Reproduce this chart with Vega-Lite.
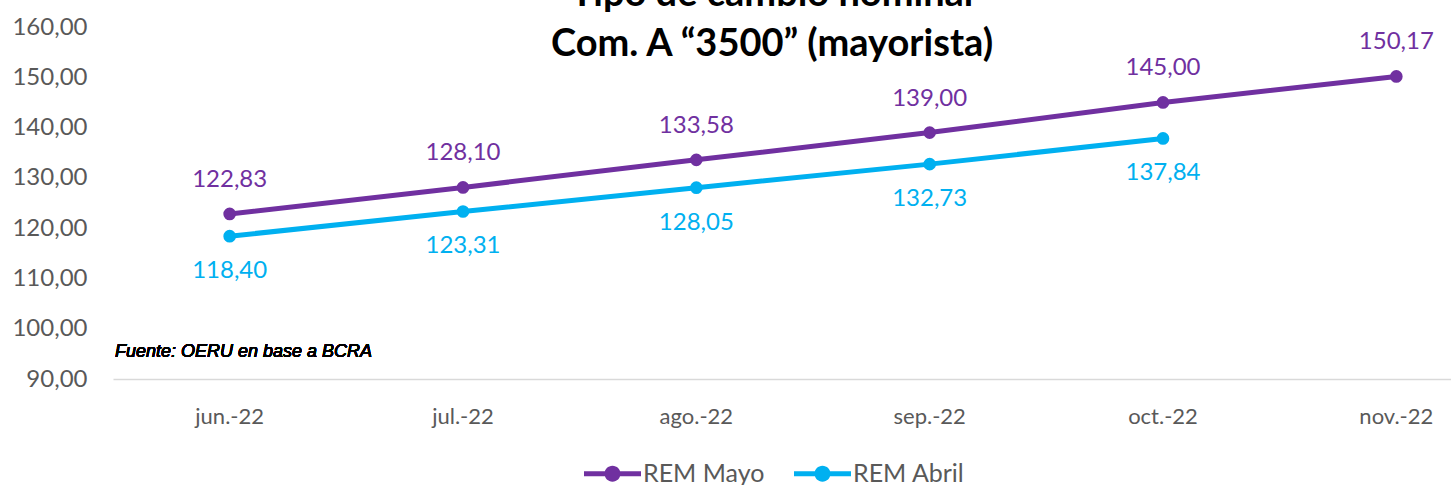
{
  "$schema": "https://vega.github.io/schema/vega-lite/v6.json",
  "width": 1338,
  "height": 352,
  "autosize": {"type": "none"},
  "padding": {"left": 113, "top": 27, "right": 0, "bottom": 106},
  "background": "white",
  "config": {
    "locale": {"number": {"decimal": ",", "thousands": ".", "grouping": [3], "currency": ["$", ""]}},
    "font": "Lato",
    "view": {"stroke": null},
    "legend": {"layout": {"bottom": {"anchor": "middle"}}}
  },
  "title": {
    "text": ["Tipo de cambio nominal", "Com. A “3500” (mayorista)"],
    "orient": "top",
    "anchor": "middle",
    "frame": "group",
    "baseline": "bottom",
    "offset": -35,
    "dy": 52,
    "dx": -10,
    "lineHeight": 50,
    "font": "Lato",
    "fontSize": 38,
    "fontWeight": "bold",
    "color": "#000000"
  },
  "data": {
    "values": [
      {"mes": "jun.-22", "serie": "REM Mayo", "valor": 122.83},
      {"mes": "jul.-22", "serie": "REM Mayo", "valor": 128.10},
      {"mes": "ago.-22", "serie": "REM Mayo", "valor": 133.58},
      {"mes": "sep.-22", "serie": "REM Mayo", "valor": 139.00},
      {"mes": "oct.-22", "serie": "REM Mayo", "valor": 145.00},
      {"mes": "nov.-22", "serie": "REM Mayo", "valor": 150.17},
      {"mes": "jun.-22", "serie": "REM Abril", "valor": 118.40},
      {"mes": "jul.-22", "serie": "REM Abril", "valor": 123.31},
      {"mes": "ago.-22", "serie": "REM Abril", "valor": 128.05},
      {"mes": "sep.-22", "serie": "REM Abril", "valor": 132.73},
      {"mes": "oct.-22", "serie": "REM Abril", "valor": 137.84}
    ]
  },
  "encoding": {
    "x": {
      "field": "mes",
      "type": "nominal",
      "scale": {
        "type": "band",
        "domain": ["jun.-22", "jul.-22", "ago.-22", "sep.-22", "oct.-22", "nov.-22"],
        "range": [0, 1400],
        "paddingInner": 0,
        "paddingOuter": 0
      },
      "axis": {
        "title": null,
        "labelAngle": 0,
        "ticks": false,
        "tickSize": 0,
        "grid": false,
        "domain": true,
        "domainColor": "#D9D9D9",
        "domainWidth": 1.5,
        "labelFontSize": 22,
        "labelFontWeight": "normal",
        "labelColor": "#595959",
        "labelPadding": 27,
        "labelFont": "Lato"
      }
    },
    "y": {
      "field": "valor",
      "type": "quantitative",
      "scale": {"domain": [90, 160], "nice": false, "zero": false},
      "axis": {
        "title": null,
        "values": [90, 100, 110, 120, 130, 140, 150, 160],
        "format": ".2f",
        "ticks": false,
        "tickSize": 0,
        "domain": false,
        "grid": false,
        "labelFontSize": 24,
        "labelColor": "#595959",
        "labelPadding": 26,
        "labelFont": "Lato"
      }
    }
  },
  "layer": [
    {
      "mark": {"type": "line", "strokeWidth": 5, "point": {"filled": true, "size": 160}},
      "encoding": {
        "color": {
          "field": "serie",
          "type": "nominal",
          "scale": {"domain": ["REM Mayo", "REM Abril"], "range": ["#7030A0", "#00B0F0"]},
          "legend": {
            "title": null,
            "orient": "bottom",
            "direction": "horizontal",
            "offset": 34,
            "labelFontSize": 25,
            "labelColor": "#595959",
            "labelFont": "Lato",
            "symbolType": "M-3,-0.26H3V0.26H-3Z M-0.84,0A0.84,0.84 0 1,1 0.84,0A0.84,0.84 0 1,1 -0.84,0Z",
            "symbolSize": 361,
            "symbolStrokeWidth": 0,
            "labelOffset": 18,
            "columnPadding": 29,
            "encode": {
              "symbols": {"update": {"fill": {"scale": "color", "field": "value"}, "strokeWidth": {"value": 0}, "opacity": {"value": 1}}}
            }
          }
        }
      }
    },
    {
      "transform": [{"filter": "datum.serie === 'REM Mayo'"}],
      "mark": {"type": "text", "dy": -34, "baseline": "middle", "align": "center", "fontSize": 24, "font": "Lato", "color": "#7030A0"},
      "encoding": {"text": {"field": "valor", "type": "quantitative", "format": ".2f"}}
    },
    {
      "transform": [{"filter": "datum.serie === 'REM Abril'"}],
      "mark": {"type": "text", "dy": 35, "baseline": "middle", "align": "center", "fontSize": 24, "font": "Lato", "color": "#00B0F0"},
      "encoding": {"text": {"field": "valor", "type": "quantitative", "format": ".2f"}}
    },
    {
      "mark": {"type": "text", "align": "left", "baseline": "middle", "dx": 2, "fontSize": 18, "fontStyle": "italic", "fontWeight": "normal", "font": "Liberation Sans", "color": "#000000"},
      "encoding": {
        "x": {"datum": "jun.-22", "bandPosition": 0},
        "y": {"datum": 95.4},
        "text": {"value": "Fuente: OERU en base a  BCRA"}
      }
    }
  ]
}
